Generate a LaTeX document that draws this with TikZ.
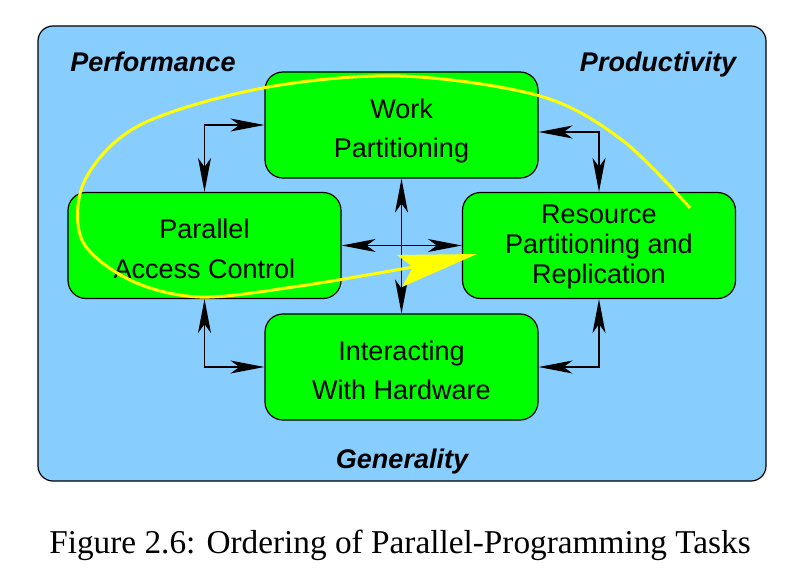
\documentclass[tikz,border=0pt]{standalone}
\usepackage{fontspec}
\setmainfont{Liberation Serif}
\newfontfamily\hv{Liberation Sans}
\usetikzlibrary{arrows.meta}
\definecolor{bgblue}{RGB}{135,206,255}
\definecolor{boxgreen}{RGB}{0,255,0}
\definecolor{curveyellow}{RGB}{255,255,0}
\begin{document}
\begin{tikzpicture}[x=1pt,y=-1pt,
  task/.style={draw=black, line width=1.2pt, fill=boxgreen, rounded corners=18pt,
    minimum width=273pt, minimum height=106pt, align=center, inner sep=0pt,
    font=\hv\fontsize{27}{39.5}\selectfont, text height=65pt, text depth=0pt},
  link/.style={line width=1.2pt,
    {Stealth[length=34pt,width=13pt,inset=9pt]}-{Stealth[length=34pt,width=13pt,inset=9pt]}},
  corner/.style={font=\hv\bfseries\itshape\fontsize{27}{32}\selectfont, anchor=base}]
\useasboundingbox (0,0) rectangle (798,578);
\node[draw=black, fill=bgblue, rounded corners=15pt, line width=1.2pt,
  minimum width=728pt, minimum height=455pt, inner sep=0pt] (frame) at (402,253.5) {};
\node[task] (work) at (401.5,125) {Work\\Partitioning};
\node[task] (par) at (204.5,245.5) {Parallel\\Access Control};
\node[task, font=\hv\fontsize{27}{30}\selectfont, text height=75.6pt] (res) at (599,245.5) {Resource\\Partitioning and\\Replication};
\node[task] (int) at (401.5,367) {Interacting\\With Hardware};
\node[corner] (perf) at (153,72) {Performance};
\node[corner] (prod) at (658,72) {Productivity};
\node[corner] (gen) at (402,468) {Generality};
\draw[link] (par.north) |- (work.west);
\draw[link] (res.north) |- ([yshift=-7pt]work.east);
\draw[link] (par.south) |- (int.west);
\draw[link] (res.south) |- (int.east);
\draw[link] (work.south) -- (int.north);
\draw[link] (par.east) -- (res.west);
\draw[curveyellow, line width=3pt] plot[smooth, tension=0.55] coordinates
  {(690,208) (622,140) (540,96) (400,76) (263,88) (140,125) (85,180) (82,240) (130,280) (200,297) (300,286) (413,267)};
\fill[curveyellow] (477,254) -- (397,255) -- (413,267) -- (402,287) -- cycle;
\node[font=\fontsize{33.3}{38}\selectfont, anchor=base] (cap) at (400,553) {Figure 2.6: Ordering of Parallel-Programming Tasks};
\end{tikzpicture}
\end{document}
